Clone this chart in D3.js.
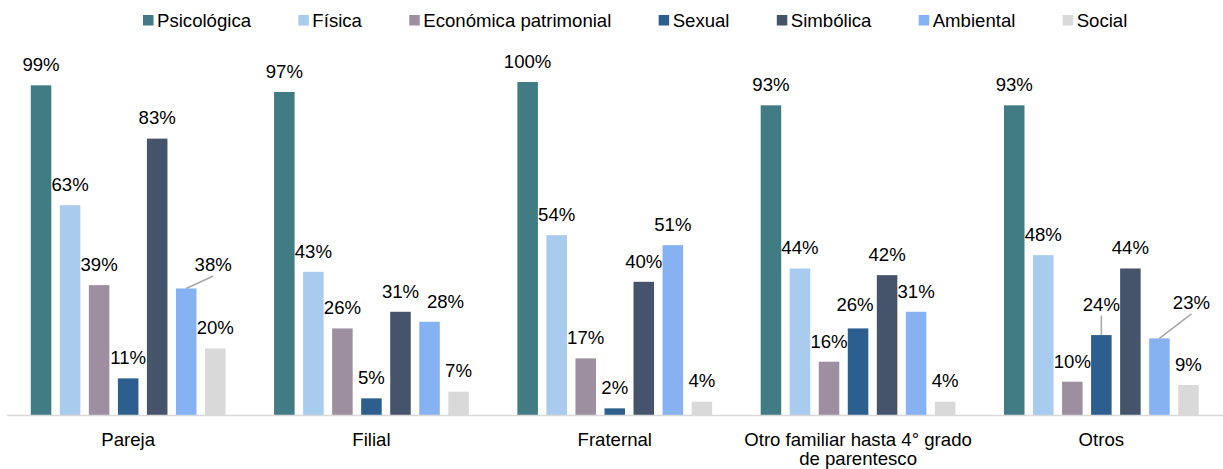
<!DOCTYPE html>
<html>
<head>
<meta charset="utf-8">
<script src="https://cdn.jsdelivr.net/npm/d3@7"></script>
<style>
  html, body { margin: 0; padding: 0; background: #fff; }
  svg { display: block; font-family: "Liberation Sans", Arial, sans-serif; }
</style>
</head>
<body>
<svg id="chart" width="1223" height="469"></svg>
<script>
// ---- Data ----
const categories = ["Pareja", "Filial", "Fraternal", "Otro familiar hasta 4° grado de parentesco", "Otros"];
const seriesNames = ["Psicológica", "Física", "Económica patrimonial", "Sexual", "Simbólica", "Ambiental", "Social"];
const psicologica = [99, 97, 100, 93, 93];
const fisica      = [63, 43, 54, 44, 48];
const economica   = [39, 26, 17, 16, 10];
const sexual      = [11, 5, 2, 26, 24];
const simbolica   = [83, 31, 40, 42, 44];
const ambiental   = [38, 28, 51, 31, 23];
const social      = [20, 7, 4, 4, 9];
const seriesValues = [psicologica, fisica, economica, sexual, simbolica, ambiental, social];

// ---- Styles ----
const colors = ["#417B83", "#A9CBEE", "#9E8FA0", "#2C5F8E", "#46546B", "#86B2F4", "#D9D9D9"];
// label nudges (series index, category index) -> [dx, dy, leader]
const labelNudges = {
  "5-0": [27, -3, true],
  "5-1": [16, 0, false],
  "3-3": [-3, -3, false],
  "3-4": [0, -10, true],
  "5-4": [32, -15, true]
};

const svg = d3.select("#chart");
const fontSize = 18.6;

const x0 = d3.scaleBand().domain(categories).range([6.5, 1223]);
const x1 = d3.scaleBand().domain(seriesNames).range([0, x0.bandwidth()])
  .paddingInner(0.293).paddingOuter(0.836);
const y = d3.scaleLinear().domain([0, 100]).range([415, 82]);
const color = d3.scaleOrdinal().domain(seriesNames).range(colors);

const data = [];
seriesNames.forEach((s, si) => {
  categories.forEach((c, ci) => {
    data.push({ s, si, c, ci, v: seriesValues[si][ci] });
  });
});

// Bars
svg.append("g").selectAll("rect").data(data).join("rect")
  .attr("x", d => x0(d.c) + x1(d.s))
  .attr("y", d => y(d.v))
  .attr("width", x1.bandwidth())
  .attr("height", d => y(0) - y(d.v))
  .attr("fill", d => color(d.s));

// Axis
const axis = svg.append("g").attr("transform", `translate(0,${y(0)})`)
  .call(d3.axisBottom(x0).tickSize(0).tickSizeOuter(0));
axis.select(".domain").attr("stroke", "#D9D9D9").attr("stroke-width", 1.5);
axis.selectAll(".tick text")
  .attr("font-size", fontSize)
  .attr("font-family", "Liberation Sans, Arial, sans-serif")
  .attr("fill", "#000")
  .attr("dy", null)
  .attr("y", 0)
  .each(function(d) {
    const t = d3.select(this);
    const words = d.split(" ");
    t.text(null);
    let lines = [];
    let line = [];
    let ts = t.append("tspan").attr("x", 0);
    words.forEach(w => {
      line.push(w);
      ts.text(line.join(" "));
      if (ts.node().getComputedTextLength() > 235 && line.length > 1) {
        line.pop();
        lines.push(line.join(" "));
        line = [w];
        ts.text(w);
      }
    });
    lines.push(line.join(" "));
    t.text(null);
    lines.forEach((l, i) => {
      t.append("tspan").attr("x", 0).attr("y", 30.5 + i * 19.5).text(l);
    });
  });

// Labels
const labelG = svg.append("g");
data.forEach(d => {
  const cx = x0(d.c) + x1(d.s) + x1.bandwidth() / 2;
  const top = y(d.v);
  const n = labelNudges[d.si + "-" + d.ci] || [0, 0, false];
  const lx = cx + n[0];
  const lcy = top - 21 + n[1];
  if (n[2]) {
    labelG.append("line")
      .attr("x1", cx).attr("y1", top)
      .attr("x2", lx).attr("y2", lcy + 11.5)
      .attr("stroke", "#A6A6A6").attr("stroke-width", 1.5);
  }
  labelG.append("text")
    .attr("x", lx).attr("y", lcy + 6.8)
    .attr("text-anchor", "middle")
    .attr("font-size", fontSize)
    .attr("fill", "#000")
    .text(d.v + "%");
});

// Legend
const legend = svg.append("g");
let lxPos = 143;
seriesNames.forEach(s => {
  legend.append("rect")
    .attr("x", lxPos).attr("y", 15)
    .attr("width", 10.5).attr("height", 10.5)
    .attr("fill", color(s));
  const t = legend.append("text")
    .attr("x", lxPos + 14).attr("y", 27)
    .attr("font-size", fontSize)
    .attr("fill", "#000")
    .text(s);
  lxPos = lxPos + 14 + t.node().getComputedTextLength() + 47.3;
});
</script>
</body>
</html>
